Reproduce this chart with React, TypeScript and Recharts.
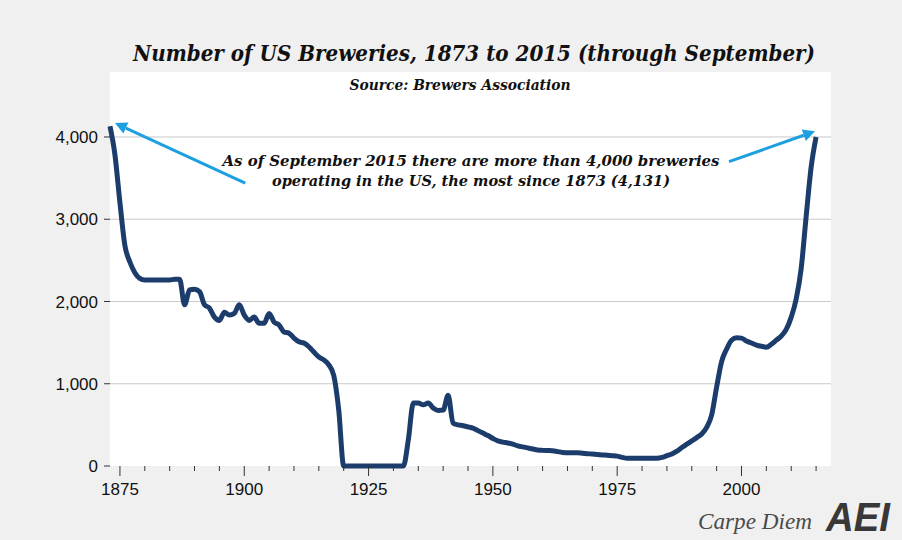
import React from 'react';
import { LineChart, Line, XAxis, YAxis, CartesianGrid, ReferenceLine } from 'recharts';

// Number of US breweries by year
const years = [
  1873, 1874, 1875, 1876, 1877, 1878, 1879, 1880, 1881, 1882, 1883, 1884, 1885, 1886, 1887, 1888, 1889,
  1890, 1891, 1892, 1893, 1894, 1895, 1896, 1897, 1898, 1899, 1900, 1901, 1902, 1903, 1904, 1905, 1906,
  1907, 1908, 1909, 1910, 1911, 1912, 1913, 1914, 1915, 1916, 1917, 1918, 1919, 1920, 1921, 1922, 1923,
  1924, 1925, 1926, 1927, 1928, 1929, 1930, 1931, 1932, 1933, 1934, 1935, 1936, 1937, 1938, 1939, 1940,
  1941, 1942, 1943, 1944, 1945, 1946, 1947, 1948, 1949, 1950, 1951, 1952, 1953, 1954, 1955, 1956, 1957,
  1958, 1959, 1960, 1961, 1962, 1963, 1964, 1965, 1966, 1967, 1968, 1969, 1970, 1971, 1972, 1973, 1974,
  1975, 1976, 1977, 1978, 1979, 1980, 1981, 1982, 1983, 1984, 1985, 1986, 1987, 1988, 1989, 1990, 1991,
  1992, 1993, 1994, 1995, 1996, 1997, 1998, 1999, 2000, 2001, 2002, 2003, 2004, 2005, 2006, 2007, 2008,
  2009, 2010, 2011, 2012, 2013, 2014, 2015,
];

const breweries = [
  4131, 3780, 3200, 2680, 2480, 2350, 2280, 2260, 2260, 2260, 2260, 2260, 2260, 2270, 2270, 1960, 2140,
  2150, 2120, 1960, 1920, 1810, 1770, 1870, 1835, 1855, 1960, 1835, 1770, 1810, 1735, 1735, 1855, 1750,
  1715, 1630, 1615, 1555, 1510, 1495, 1450, 1385, 1325, 1290, 1230, 1100, 680, 0, 0, 0, 0,
  0, 0, 0, 0, 0, 0, 0, 0, 0, 320, 765, 765, 745, 765, 705, 675, 680,
  860, 520, 500, 490, 475, 460, 430, 400, 370, 335, 305, 290, 280, 265, 245, 232, 220,
  207, 195, 190, 188, 185, 175, 165, 162, 160, 160, 155, 150, 145, 140, 135, 130, 125,
  120, 105, 95, 95, 95, 95, 95, 95, 95, 105, 125, 145, 180, 225, 265, 305, 345,
  390, 470, 620, 960, 1270, 1420, 1530, 1560, 1555, 1520, 1495, 1470, 1455, 1445, 1480, 1530, 1580,
  1660, 1810, 2030, 2400, 3030, 3630, 4000,
];

const xTicks = [
  1875, 1880, 1885, 1890, 1895, 1900, 1905, 1910, 1915, 1920, 1925, 1930, 1935, 1940, 1945, 1950,
  1955, 1960, 1965, 1970, 1975, 1980, 1985, 1990, 1995, 2000, 2005, 2010, 2015,
];
const labeledYears = [1875, 1900, 1925, 1950, 1975, 2000];
const yTicks = [0, 1000, 2000, 3000, 4000];
const gridValues = [1000, 2000, 3000, 4000];

// arrow annotations: [year, value] tail -> head
const leftArrow = [[1900.2, 3440], [1874.0, 4170]];
const rightArrow = [[1997.5, 3700], [2014.8, 4070]];

const data = years.map((year, i) => ({ year, breweries: breweries[i] }));

const axisFont = '"Liberation Sans", Arial, sans-serif';
const serif = '"DejaVu Serif", Georgia, serif';

const YearTick = (props: any) => {
  const { x, y, payload } = props;
  const major = labeledYears.includes(payload.value);
  return (
    <g>
      <line x1={x} x2={x} y1={y} y2={y + (major ? 10 : 5)} stroke="#333" strokeWidth={1} />
      {major && (
        <text x={x} y={y + 29} textAnchor="middle" fill="#111" fontSize={17} fontFamily={axisFont}>
          {payload.value}
        </text>
      )}
    </g>
  );
};

const Arrow = (props: any) => {
  const { x1, y1, x2, y2 } = props;
  const ang = Math.atan2(y2 - y1, x2 - x1);
  const len = 12;
  const half = 6;
  const bx = x2 - len * Math.cos(ang);
  const by = y2 - len * Math.sin(ang);
  const px = -Math.sin(ang) * half;
  const py = Math.cos(ang) * half;
  return (
    <g>
      <line x1={x1} y1={y1} x2={bx} y2={by} stroke="#1e9fe0" strokeWidth={3} />
      <polygon points={`${x2},${y2} ${bx + px},${by + py} ${bx - px},${by - py}`} fill="#1e9fe0" />
    </g>
  );
};

const App: React.FC = () => {
  return (
    <div style={{ position: 'absolute', left: 0, top: 0, width: 902, height: 540, background: '#f0f0f0', overflow: 'hidden' }}>
      <LineChart width={902} height={540} data={data} margin={{ top: 72, right: 71, bottom: 44, left: 50 }}>
        <CartesianGrid fill="#ffffff" vertical={false} horizontalValues={gridValues} stroke="#c8c8c8" />
        <XAxis
          dataKey="year"
          type="number"
          domain={[1873, 2018]}
          ticks={xTicks}
          interval={0}
          axisLine={false}
          tickLine={false}
          tickSize={0}
          tickMargin={0}
          tick={<YearTick />}
        />
        <YAxis
          type="number"
          domain={[0, 4790]}
          ticks={yTicks}
          width={60}
          axisLine={false}
          tickSize={6}
          tickMargin={6}
          tickLine={{ stroke: '#333' }}
          tick={{ fill: '#111', fontSize: 17, fontFamily: axisFont }}
          tickFormatter={(v: number) => v.toLocaleString('en-US')}
        />
        <Line
          type="monotone"
          dataKey="breweries"
          stroke="#1c3d6b"
          strokeWidth={5}
          dot={false}
          strokeLinejoin="round"
          isAnimationActive={false}
        />
        <ReferenceLine
          segment={[{ x: leftArrow[0][0], y: leftArrow[0][1] }, { x: leftArrow[1][0], y: leftArrow[1][1] }]}
          ifOverflow="visible"
          shape={Arrow}
        />
        <ReferenceLine
          segment={[{ x: rightArrow[0][0], y: rightArrow[0][1] }, { x: rightArrow[1][0], y: rightArrow[1][1] }]}
          ifOverflow="visible"
          shape={Arrow}
        />
      </LineChart>
      <svg width={902} height={540} style={{ position: 'absolute', left: 0, top: 0, pointerEvents: 'none' }}>
        <text x={474} y={61} textAnchor="middle" fontFamily={serif} fontWeight="bold" fontStyle="italic" fontSize={22}
          fill="#111" textLength={682} lengthAdjust="spacingAndGlyphs">
          Number of US Breweries, 1873 to 2015 (through September)
        </text>
        <text x={460} y={90} textAnchor="middle" fontFamily={serif} fontWeight="bold" fontStyle="italic" fontSize={14}
          fill="#111" textLength={221} lengthAdjust="spacingAndGlyphs">
          Source: Brewers Association
        </text>
        <text x={471} y={166} textAnchor="middle" fontFamily={serif} fontWeight="bold" fontStyle="italic" fontSize={15}
          fill="#111" textLength={497} lengthAdjust="spacingAndGlyphs">
          As of September 2015 there are more than 4,000 breweries
        </text>
        <text x={471} y={186} textAnchor="middle" fontFamily={serif} fontWeight="bold" fontStyle="italic" fontSize={15}
          fill="#111" textLength={398} lengthAdjust="spacingAndGlyphs">
          operating in the US, the most since 1873 (4,131)
        </text>
        <text x={698} y={529} fontFamily='"Liberation Serif", "Times New Roman", serif' fontStyle="italic" fontSize={24}
          fill="#4a4a4a" textLength={114} lengthAdjust="spacingAndGlyphs">
          Carpe Diem
        </text>
        <text x={826} y={531} fontFamily={axisFont} fontWeight={900} fontStyle="italic" fontSize={40}
          fill="#383838" textLength={64} lengthAdjust="spacingAndGlyphs">
          AEI
        </text>
      </svg>
    </div>
  );
};

export default App;
